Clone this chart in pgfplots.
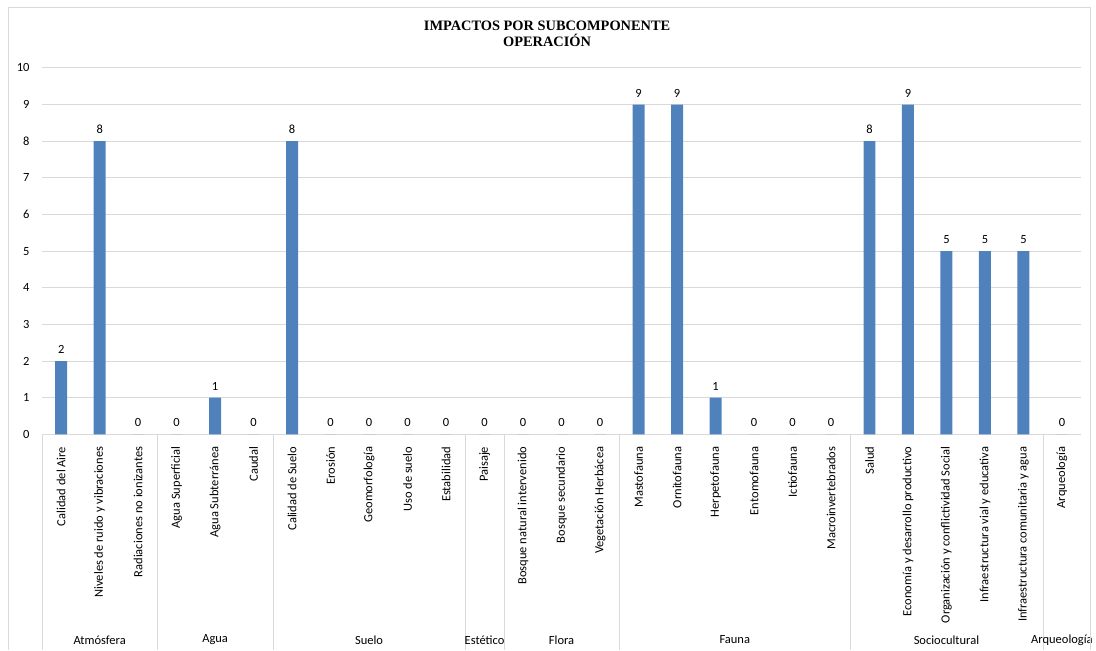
\documentclass[border=0pt]{standalone}
\usepackage{fontspec}
\setmainfont{Carlito}
\newfontfamily\titlefont{Liberation Serif}
\usepackage{pgfplots}
\pgfplotsset{compat=1.18}
\definecolor{barblue}{HTML}{4F81BD}
\definecolor{gridgray}{HTML}{D9D9D9}
\begin{document}
\begin{tikzpicture}
\begin{axis}[
  name=ax, at={(0pt,0pt)}, anchor=south west,
  scale only axis, width=1041pt, height=367pt,
  xmin=-0.5, xmax=26.5, ymin=0, ymax=10,
  ytick={0,1,...,10},
  xtick={0,1,...,26},
  xticklabels={Calidad del Aire,Niveles de ruido y vibraciones,Radiaciones no ionizantes,Agua Superficial,Agua Subterránea,Caudal,Calidad de Suelo,Erosión,Geomorfología,Uso de suelo,Estabilidad,Paisaje,Bosque natural intervenido,Bosque secundario,Vegetación Herbácea,Mastofauna,Ornitofauna,Herpetofauna,Entomofauna,Ictiofauna,Macroinvertebrados,Salud,Economía y desarrollo productivo,Organización y conflictividad Social,Infraestructura vial y educativa,Infraestructura comunitaria y agua,Arqueología},
  xticklabel style={yshift=-9pt, rotate=90, anchor=east, font=\fontsize{12.5}{14}\selectfont},
  yticklabel style={xshift=-9pt, font=\fontsize{12.5}{14}\selectfont},
  /pgf/number format/assume math mode=true,
  major tick length=0pt,
  axis line style={draw=none},
  ymajorgrids, grid style={gridgray, line width=0.8pt},
  ybar, bar width=12pt,
  nodes near coords,
  every node near coord/.append style={font=\fontsize{12.5}{14}\selectfont, yshift=4pt},
  clip=false,
]
\addplot[fill=barblue, draw=none] coordinates {
(0,2) (1,8) (2,0) (3,0) (4,1) (5,0) (6,8) (7,0) (8,0) (9,0) (10,0) (11,0) (12,0) (13,0) (14,0) (15,9) (16,9) (17,1) (18,0) (19,0) (20,0) (21,8) (22,9) (23,5) (24,5) (25,5) (26,0)
};
\draw[gridgray] (axis cs:-0.5,0) -- ([yshift=-216pt]axis cs:-0.5,0);
\draw[gridgray] (axis cs:2.5,0) -- ([yshift=-216pt]axis cs:2.5,0);
\draw[gridgray] (axis cs:5.5,0) -- ([yshift=-216pt]axis cs:5.5,0);
\draw[gridgray] (axis cs:10.5,0) -- ([yshift=-216pt]axis cs:10.5,0);
\draw[gridgray] (axis cs:11.5,0) -- ([yshift=-216pt]axis cs:11.5,0);
\draw[gridgray] (axis cs:14.5,0) -- ([yshift=-216pt]axis cs:14.5,0);
\draw[gridgray] (axis cs:20.5,0) -- ([yshift=-216pt]axis cs:20.5,0);
\draw[gridgray] (axis cs:25.5,0) -- ([yshift=-216pt]axis cs:25.5,0);
\node[font=\fontsize{12.5}{14}\selectfont] at ([yshift=-206pt]axis cs:1,0) {Atmósfera};
\node[font=\fontsize{12.5}{14}\selectfont] at ([yshift=-206pt]axis cs:4,0) {Agua};
\node[font=\fontsize{12.5}{14}\selectfont] at ([yshift=-206pt]axis cs:8,0) {Suelo};
\node[font=\fontsize{12.5}{14}\selectfont] at ([yshift=-206pt]axis cs:11,0) {Estético};
\node[font=\fontsize{12.5}{14}\selectfont] at ([yshift=-206pt]axis cs:13,0) {Flora};
\node[font=\fontsize{12.5}{14}\selectfont] at ([yshift=-206pt]axis cs:17.5,0) {Fauna};
\node[font=\fontsize{12.5}{14}\selectfont] at ([yshift=-206pt]axis cs:23,0) {Sociocultural};
\node[font=\fontsize{12.5}{14}\selectfont] at ([yshift=-206pt]axis cs:26,0) {Arqueología};
\end{axis}
\draw[gridgray] ([shift={(-34pt,-216pt)}]ax.south west) -- ([shift={(-34pt,428pt)}]ax.south west) -- ([shift={(1050pt,428pt)}]ax.south west) -- ([shift={(1050pt,-216pt)}]ax.south west);
\node[font=\titlefont\bfseries\fontsize{14.4}{15.5}\selectfont, align=center] at ([shift={(506pt,401pt)}]ax.south west) {IMPACTOS POR SUBCOMPONENTE\\OPERACIÓN};
\useasboundingbox ([shift={(-42pt,-216pt)}]ax.south west) rectangle ([shift={(1054pt,435pt)}]ax.south west);
\end{tikzpicture}
\end{document}
